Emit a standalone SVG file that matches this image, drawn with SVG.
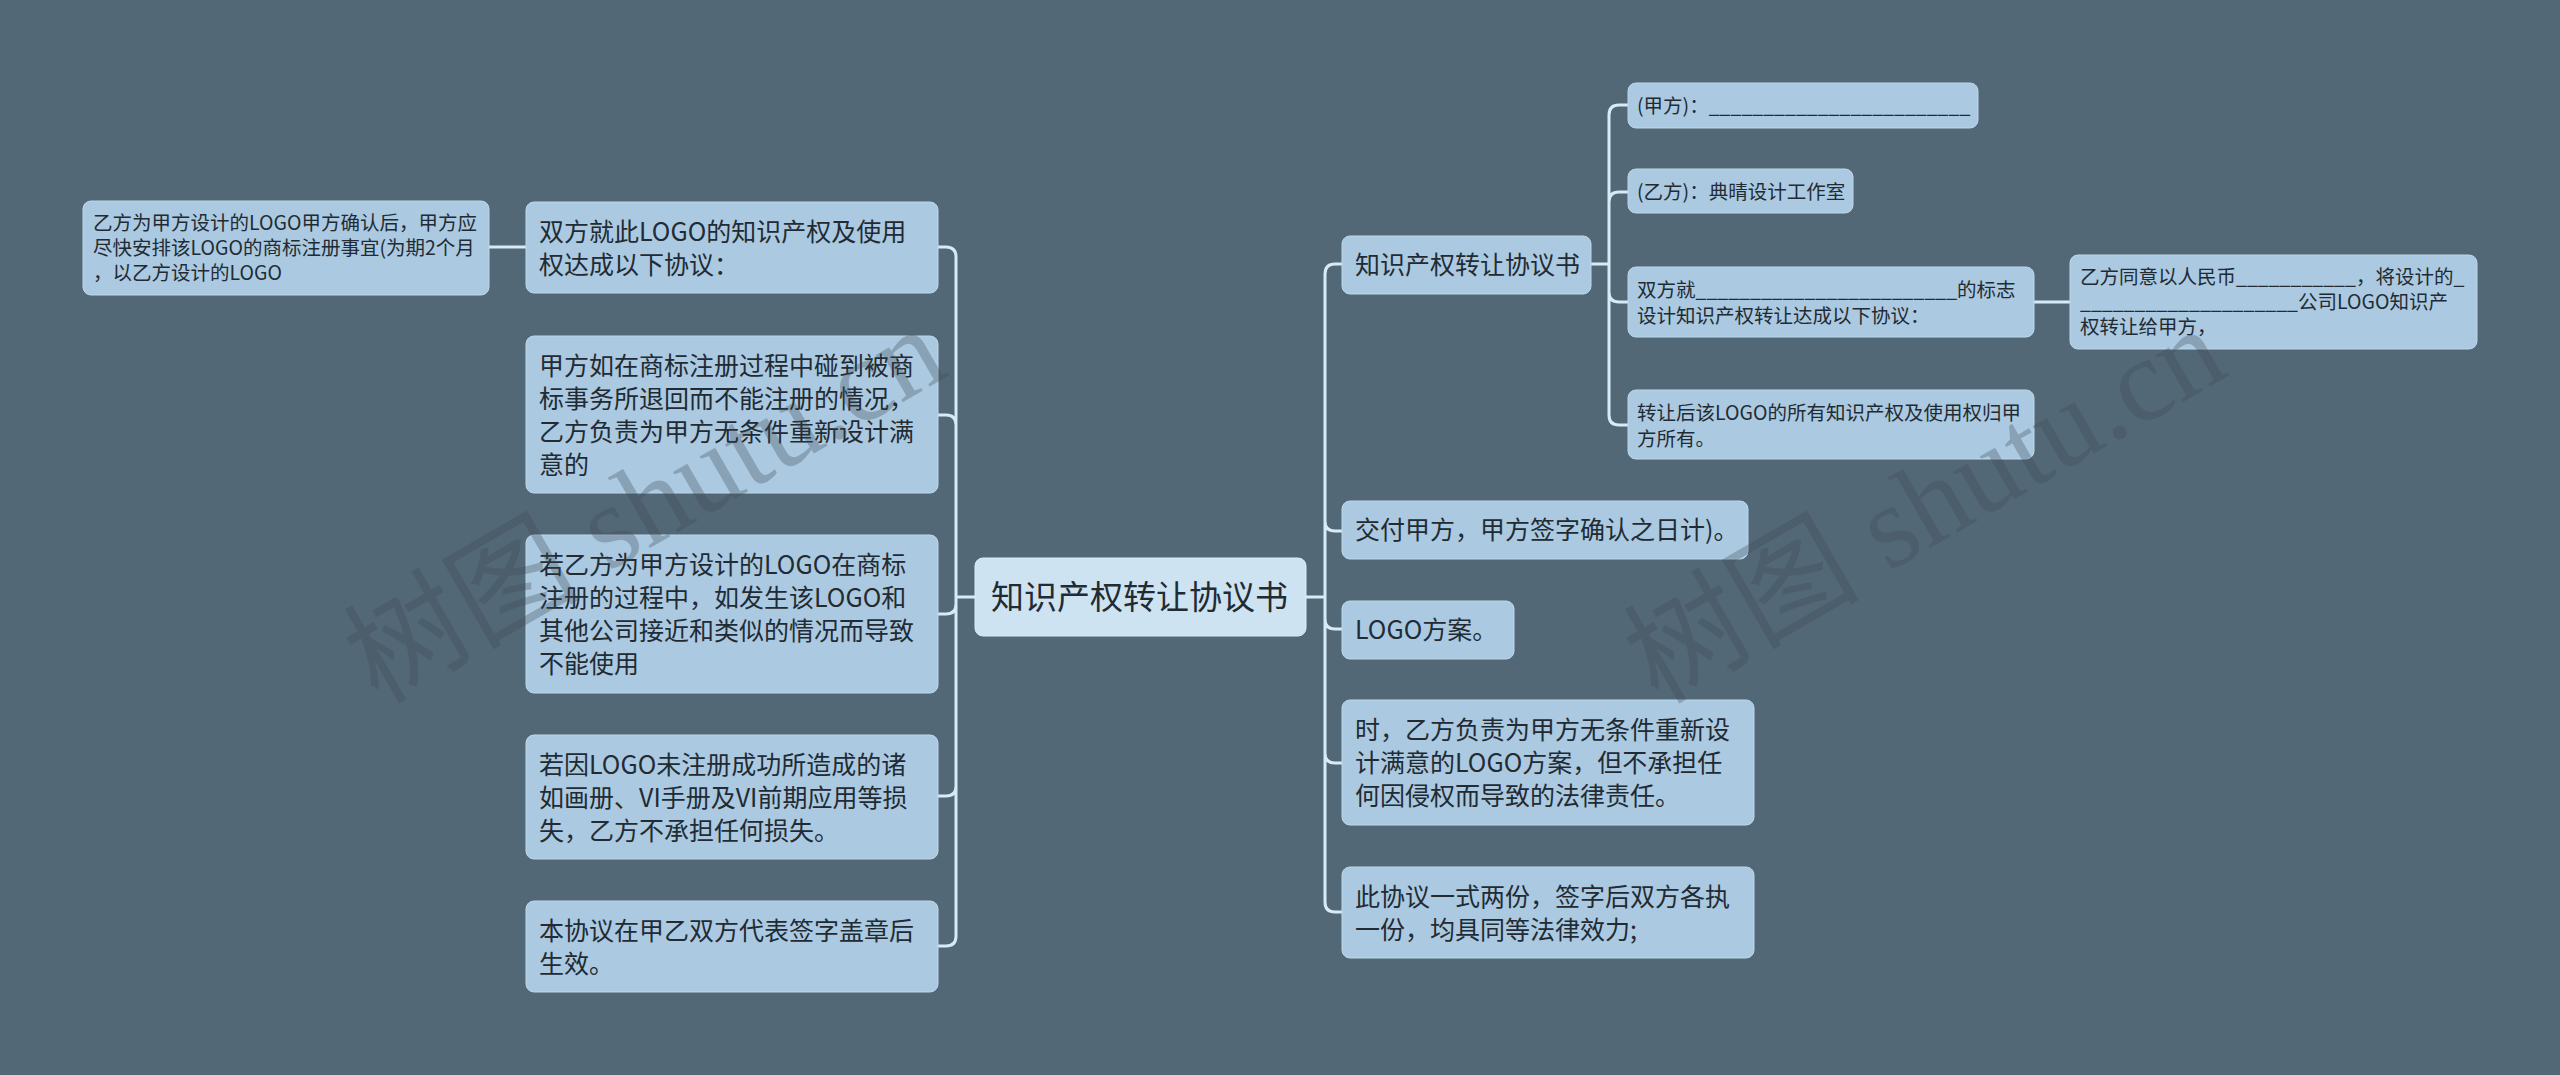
<svg xmlns="http://www.w3.org/2000/svg" width="2560" height="1075" viewBox="0 0 2560 1075">
<style>
text{font-family:"Noto Sans CJK SC","Noto Sans",sans-serif;fill:#222b33}
.n{fill:#abc9e0;stroke:#bcd8ea;stroke-width:1}
.c{fill:#cde3f1;stroke:#d9edf7;stroke-width:1}
.l{fill:none;stroke:#d6ebf5;stroke-width:3}
.f32{font-size:33px}.f25{font-size:25px}.f20{font-size:19.5px}
.wm{font-family:"Liberation Serif","Noto Sans CJK SC",serif;font-size:118px;fill:#3c4650;fill-opacity:.3}
</style>
<rect width="2560" height="1075" fill="#536877"/>
<g id="connectors">
<path class="l" d="M975 597H956M956 597V257Q956 247 946 247H938M956 425Q956 415 946 415H938M956 597V604Q956 614 946 614H938M956 597V936Q956 946 946 946H938M956 786Q956 796 946 796H938M489 247H526"/>
<path class="l" d="M1306 597H1325M1325 597V274Q1325 264 1335 264H1342M1325 521Q1325 531 1335 531H1342M1325 597V619Q1325 629 1335 629H1342M1325 597V902Q1325 912 1335 912H1342M1325 753Q1325 763 1335 763H1342"/>
<path class="l" d="M1591 264H1609M1609 264V115Q1609 105 1619 105H1628M1609 202Q1609 192 1619 192H1628M1609 264V292Q1609 302 1619 302H1628M1609 264V415Q1609 425 1619 425H1628M2034 302H2070"/>
</g>
<g id="root"><rect class="c" x="975" y="558" width="331" height="78" rx="8"/><text class="f32" x="991" y="609">知识产权转让协议书</text></g>
<g id="l1"><rect class="n" x="526" y="202" width="412" height="91" rx="8"/><text class="f25" x="539" y="241">双方就此LOGO的知识产权及使用</text><text class="f25" x="539" y="274">权达成以下协议：</text></g>
<g id="l1a"><rect class="n" x="83" y="201" width="406" height="94" rx="8"/><text class="f20" x="93" y="230">乙方为甲方设计的LOGO甲方确认后，甲方应</text><text class="f20" x="93" y="255">尽快安排该LOGO的商标注册事宜(为期2个月</text><text class="f20" x="93" y="280">，以乙方设计的LOGO</text></g>
<g id="l2"><rect class="n" x="526" y="336" width="412" height="157" rx="8"/><text class="f25" x="539" y="375">甲方如在商标注册过程中碰到被商</text><text class="f25" x="539" y="408">标事务所退回而不能注册的情况，</text><text class="f25" x="539" y="441">乙方负责为甲方无条件重新设计满</text><text class="f25" x="539" y="474">意的</text></g>
<g id="l3"><rect class="n" x="526" y="535" width="412" height="158" rx="8"/><text class="f25" x="539" y="574">若乙方为甲方设计的LOGO在商标</text><text class="f25" x="539" y="607">注册的过程中，如发生该LOGO和</text><text class="f25" x="539" y="640">其他公司接近和类似的情况而导致</text><text class="f25" x="539" y="673">不能使用</text></g>
<g id="l4"><rect class="n" x="526" y="735" width="412" height="124" rx="8"/><text class="f25" x="539" y="774">若因LOGO未注册成功所造成的诸</text><text class="f25" x="539" y="807">如画册、VI手册及VI前期应用等损</text><text class="f25" x="539" y="840">失，乙方不承担任何损失。</text></g>
<g id="l5"><rect class="n" x="526" y="901" width="412" height="91" rx="8"/><text class="f25" x="539" y="940">本协议在甲乙双方代表签字盖章后</text><text class="f25" x="539" y="973">生效。</text></g>
<g id="r1"><rect class="n" x="1342" y="236" width="249" height="58" rx="8"/><text class="f25" x="1355" y="274">知识产权转让协议书</text></g>
<g id="r1a"><rect class="n" x="1628" y="83" width="350" height="45" rx="8"/><text class="f20" x="1637" y="113">(甲方)：________________________</text></g>
<g id="r1b"><rect class="n" x="1628" y="169" width="225" height="44" rx="8"/><text class="f20" x="1637" y="199">(乙方)：典晴设计工作室</text></g>
<g id="r1c"><rect class="n" x="1628" y="267" width="406" height="70" rx="8"/><text class="f20" x="1637" y="297">双方就________________________的标志</text><text class="f20" x="1637" y="323">设计知识产权转让达成以下协议：</text></g>
<g id="r1c1"><rect class="n" x="2070" y="255" width="407" height="94" rx="8"/><text class="f20" x="2080" y="284">乙方同意以人民币___________，将设计的_</text><text class="f20" x="2080" y="309">____________________公司LOGO知识产</text><text class="f20" x="2080" y="334">权转让给甲方，</text></g>
<g id="r1d"><rect class="n" x="1628" y="390" width="406" height="69" rx="8"/><text class="f20" x="1637" y="420">转让后该LOGO的所有知识产权及使用权归甲</text><text class="f20" x="1637" y="446">方所有。</text></g>
<g id="r2"><rect class="n" x="1342" y="501" width="406" height="58" rx="8"/><text class="f25" x="1355" y="539">交付甲方，甲方签字确认之日计)。</text></g>
<g id="r3"><rect class="n" x="1342" y="601" width="172" height="58" rx="8"/><text class="f25" x="1355" y="639">LOGO方案。</text></g>
<g id="r4"><rect class="n" x="1342" y="700" width="412" height="125" rx="8"/><text class="f25" x="1355" y="739">时，乙方负责为甲方无条件重新设</text><text class="f25" x="1355" y="772">计满意的LOGO方案，但不承担任</text><text class="f25" x="1355" y="805">何因侵权而导致的法律责任。</text></g>
<g id="r5"><rect class="n" x="1342" y="867" width="412" height="91" rx="8"/><text class="f25" x="1355" y="906">此协议一式两份，签字后双方各执</text><text class="f25" x="1355" y="939">一份，均具同等法律效力;</text></g>
<text class="wm" transform="translate(378 705) rotate(-30)">树图 shutu.cn</text>
<text class="wm" transform="translate(1658 705) rotate(-30)">树图 shutu.cn</text>
</svg>
